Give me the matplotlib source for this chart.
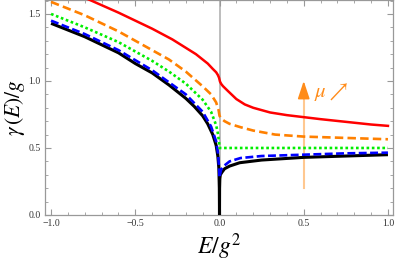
import matplotlib
matplotlib.use("Agg")
import matplotlib.pyplot as plt
from matplotlib.ticker import MultipleLocator, FixedLocator, FixedFormatter

plt.rcParams['mathtext.fontset'] = 'stix'

# --- data ---
black_E = [-1.0, -0.9, -0.8, -0.7, -0.6, -0.5, -0.4, -0.3, -0.2, -0.15, -0.1, -0.07, -0.04, -0.02, -0.01, -0.004, -0.001, 0.0]
black_g = [1.43, 1.38, 1.33, 1.27, 1.21, 1.13, 1.06, 0.97, 0.87, 0.81, 0.74, 0.68, 0.60, 0.52, 0.44, 0.35, 0.20, 0.0]
black_E2 = [0.0, 0.0005, 0.002, 0.005, 0.015, 0.03, 0.06, 0.12, 0.25, 0.5, 0.75, 1.0]
black_g2 = [0.0, 0.20, 0.27, 0.30, 0.32, 0.345, 0.365, 0.39, 0.41, 0.43, 0.44, 0.45]

blue_E = [-1.0, -0.8, -0.6, -0.4, -0.2, -0.1, -0.05, -0.02, -0.01, -0.004, 0.0, 0.004, 0.01, 0.03, 0.06, 0.125, 0.25, 0.5, 0.75, 1.0]
blue_g = [1.45, 1.35, 1.23, 1.08, 0.90, 0.77, 0.66, 0.55, 0.47, 0.38, 0.28, 0.31, 0.34, 0.37, 0.40, 0.425, 0.44, 0.45, 0.46, 0.465]

green_E = [-1.0, -0.8, -0.6, -0.4, -0.3, -0.2, -0.1, -0.05, -0.02, -0.01, -0.003, 0.0, 1.0]
green_g = [1.50, 1.40, 1.29, 1.15, 1.07, 0.98, 0.86, 0.77, 0.67, 0.61, 0.55, 0.50, 0.50]

orange_E = [-1.0, -0.8, -0.6, -0.4, -0.3, -0.2, -0.1, -0.05, -0.02, -0.005, 0.0, 0.01, 0.03, 0.06, 0.125, 0.2, 0.33, 0.5, 0.75, 1.0]
orange_g = [1.59, 1.49, 1.37, 1.23, 1.16, 1.07, 0.96, 0.90, 0.84, 0.78, 0.74, 0.72, 0.70, 0.68, 0.655, 0.63, 0.60, 0.585, 0.575, 0.565]

red_E = [-0.78, -0.6, -0.4, -0.28, -0.14, -0.07, -0.04, -0.02, -0.01, -0.003, 0.0, 0.003, 0.01, 0.02, 0.05, 0.1, 0.15, 0.2, 0.3, 0.4, 0.5, 0.6, 0.75, 0.9, 1.0]
red_g = [1.61, 1.51, 1.39, 1.31, 1.20, 1.13, 1.09, 1.065, 1.045, 1.025, 1.01, 0.995, 0.978, 0.962, 0.925, 0.865, 0.825, 0.80, 0.765, 0.745, 0.73, 0.715, 0.695, 0.675, 0.665]

x_ticks = [-1.0, -0.5, 0.0, 0.5, 1.0]
x_labels = ["\u22121.0", "\u22120.5", "0.0", "0.5", "1.0"]
y_ticks = [0.0, 0.5, 1.0, 1.5]
y_labels = ["0.0", "0.5", "1.0", "1.5"]

fig = plt.figure(figsize=(3.95, 2.62), dpi=100)
ax = fig.add_axes([45/395, 1-215/262, (393-45)/395, 215/262])

ax.axvline(0, color='#b8b8b8', lw=1.3, zorder=1)

ax.plot(black_E, black_g, color='black', lw=2.2, solid_capstyle='butt', zorder=3)
ax.plot(black_E2, black_g2, color='black', lw=2.2, solid_capstyle='butt', zorder=3)
ax.plot(blue_E, blue_g, color='#0000ff', lw=1.9, dashes=(3.0, 1.3), zorder=4)
ax.plot(green_E, green_g, color='#00ee00', lw=1.9, dashes=(1.0, 1.0), zorder=4)
ax.plot(orange_E, orange_g, color='#ff8000', lw=1.9, dashes=(3.2, 1.6), zorder=4)
ax.plot(red_E, red_g, color='#ff0000', lw=1.8, zorder=4)

# arrow for mu
ax.plot([0.5, 0.5], [0.2, 0.9], color='#ffc890', lw=1.5, zorder=2)
ax.annotate('', xy=(0.5, 1.0), xytext=(0.5, 0.87),
            arrowprops=dict(arrowstyle='-|>,head_length=0.9,head_width=0.3', color='#ff8c1a', lw=1.2,
                            shrinkA=0, shrinkB=0, mutation_scale=12), zorder=2)
ax.text(0.56, 0.92, r'$\mu\nearrow$', color='#ff8c1a', fontsize=15, ha='left', va='center')

ax.set_xlim(-1.036, 1.03)
ax.set_ylim(0, 1.604)

ax.xaxis.set_major_locator(FixedLocator(x_ticks))
ax.xaxis.set_major_formatter(FixedFormatter(x_labels))
ax.yaxis.set_major_locator(FixedLocator(y_ticks))
ax.yaxis.set_major_formatter(FixedFormatter(y_labels))
ax.xaxis.set_minor_locator(MultipleLocator(0.1))
ax.yaxis.set_minor_locator(MultipleLocator(0.1))

frame_c = '#999999'
for s in ax.spines.values():
    s.set_color(frame_c)
    s.set_linewidth(0.9)
ax.tick_params(which='both', direction='in', top=True, right=True, color=frame_c,
               labelsize=7, labelcolor='#333333', pad=3)
ax.tick_params(which='major', length=4, width=0.8)
ax.tick_params(which='minor', length=2.2, width=0.6)
for lab in ax.get_xticklabels() + ax.get_yticklabels():
    lab.set_fontfamily('Liberation Serif')

ax.set_xlabel(r'$E/g^2$', fontsize=17, labelpad=2)
ax.set_ylabel(r'$\gamma\,(E)/g$', fontsize=15.5, labelpad=1)

fig.savefig('out.png', dpi=100)
